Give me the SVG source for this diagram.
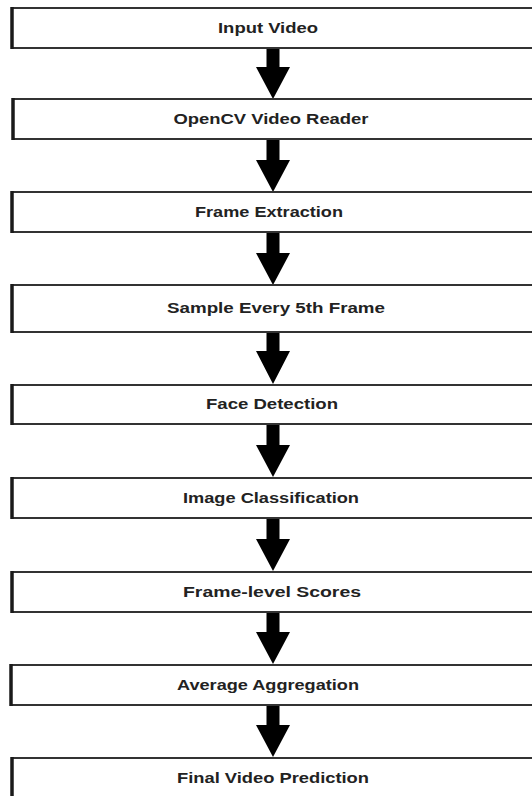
<svg xmlns="http://www.w3.org/2000/svg" width="532" height="796" viewBox="0 0 532 796">
  <defs>
    <style>
      .box rect.frame { fill: #ffffff; stroke: #333333; stroke-width: 2; }
      .box line.edge { stroke: #1a1a1a; stroke-width: 3.5; }
      .box text { font-family: "Liberation Sans", Arial, sans-serif; font-size: 14px; font-weight: bold; fill: #222222; text-anchor: middle; }
      .arrow { fill: #000000; }
    </style>
  </defs>
  <rect x="0" y="0" width="532" height="796" fill="#ffffff"/>

  <!-- connectors: thick block arrows -->
  <g id="connectors">
    <path class="arrow" d="M266.5,48 H279.5 V67 H290 L273,99 L256,67 H266.5 Z"/>
    <path class="arrow" d="M266.5,139 H279.5 V160 H290 L273,192 L256,160 H266.5 Z"/>
    <path class="arrow" d="M266.5,232 H279.5 V253 H290 L273,285 L256,253 H266.5 Z"/>
    <path class="arrow" d="M266.5,332 H279.5 V351 H290 L273,384 L256,351 H266.5 Z"/>
    <path class="arrow" d="M266.5,424 H279.5 V445 H290 L273,477 L256,445 H266.5 Z"/>
    <path class="arrow" d="M266.5,518 H279.5 V539 H290 L273,571 L256,539 H266.5 Z"/>
    <path class="arrow" d="M266.5,612 H279.5 V632 H290 L273,664 L256,632 H266.5 Z"/>
    <path class="arrow" d="M266.5,705 H279.5 V725 H290 L273,757 L256,725 H266.5 Z"/>
  </g>

  <g id="input-video" class="box">
    <rect class="frame" x="12" y="8" width="540" height="40"/>
    <line class="edge" x1="12" y1="7" x2="12" y2="49"/>
    <text x="268" y="33" textLength="100" lengthAdjust="spacingAndGlyphs">Input Video</text>
  </g>

  <g id="opencv-reader" class="box">
    <rect class="frame" x="13" y="99" width="540" height="40"/>
    <line class="edge" x1="13" y1="98" x2="13" y2="140"/>
    <text x="271" y="124" textLength="195" lengthAdjust="spacingAndGlyphs">OpenCV Video Reader</text>
  </g>

  <g id="frame-extraction" class="box">
    <rect class="frame" x="12" y="192" width="540" height="40"/>
    <line class="edge" x1="12" y1="191" x2="12" y2="233"/>
    <text x="269" y="217" textLength="148" lengthAdjust="spacingAndGlyphs">Frame Extraction</text>
  </g>

  <g id="sample-frames" class="box">
    <rect class="frame" x="12" y="285" width="540" height="47"/>
    <line class="edge" x1="12" y1="284" x2="12" y2="333"/>
    <text x="276" y="313" textLength="218" lengthAdjust="spacingAndGlyphs">Sample Every 5th Frame</text>
  </g>

  <g id="face-detection" class="box">
    <rect class="frame" x="12" y="385" width="540" height="39"/>
    <line class="edge" x1="12" y1="384" x2="12" y2="425"/>
    <text x="272" y="409" textLength="132" lengthAdjust="spacingAndGlyphs">Face Detection</text>
  </g>

  <g id="image-classification" class="box">
    <rect class="frame" x="12" y="478" width="540" height="40"/>
    <line class="edge" x1="12" y1="477" x2="12" y2="519"/>
    <text x="271" y="503" textLength="176" lengthAdjust="spacingAndGlyphs">Image Classification</text>
  </g>

  <g id="frame-scores" class="box">
    <rect class="frame" x="12" y="572" width="540" height="40"/>
    <line class="edge" x1="12" y1="571" x2="12" y2="613"/>
    <text x="272" y="597" textLength="178" lengthAdjust="spacingAndGlyphs">Frame-level Scores</text>
  </g>

  <g id="average-aggregation" class="box">
    <rect class="frame" x="11" y="665" width="540" height="40"/>
    <line class="edge" x1="11" y1="664" x2="11" y2="706"/>
    <text x="268" y="690" textLength="182" lengthAdjust="spacingAndGlyphs">Average Aggregation</text>
  </g>

  <g id="final-prediction" class="box">
    <rect class="frame" x="12" y="758" width="540" height="44"/>
    <line class="edge" x1="12" y1="757" x2="12" y2="800"/>
    <text x="273" y="783" textLength="192" lengthAdjust="spacingAndGlyphs">Final Video Prediction</text>
  </g>
</svg>
